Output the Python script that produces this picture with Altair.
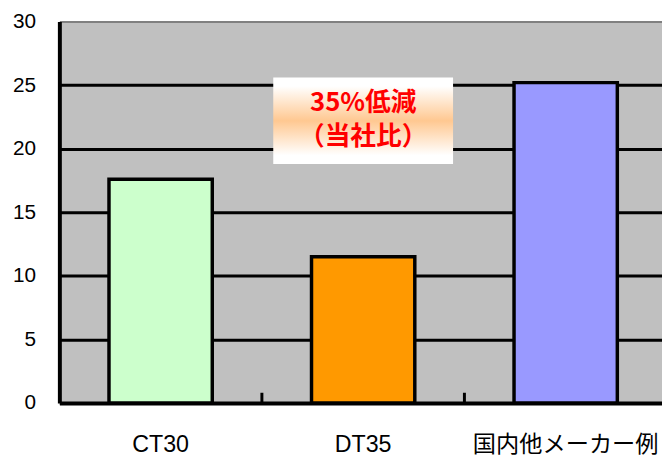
import altair as alt
import pandas as pd

categories = ["CT30", "DT35", "国内他メーカー例"]
values = [17.6, 11.5, 25.2]
bar_colors = ["#CCFFCC", "#FF9900", "#9999FF"]
y_ticks = [0, 5, 10, 15, 20, 25, 30]
note_lines = ["35%低減", "（当社比）"]
note_y = [23.6, 20.9]
note_box = [18.8, 25.6]
tick_len = 0.8

FONT = "'Liberation Sans', 'Noto Sans CJK JP', sans-serif"

bars_df = pd.DataFrame({"cat": categories, "v": values})
box_df = pd.DataFrame({"cat": [categories[1]], "y1": [note_box[0]], "y2": [note_box[1]]})
text_df = pd.DataFrame({"cat": [categories[1]] * 2, "y": note_y, "t": note_lines})
tick_df = pd.DataFrame({"cat": categories[1:], "y1": [0] * 2, "y2": [tick_len] * 2})

xscale = alt.Scale(domain=categories, paddingInner=0, paddingOuter=0, range=[0, 615])
yscale = alt.Scale(domain=[0, 30], nice=False)

x_axis = alt.Axis(
    domainColor="black", domainWidth=4, ticks=False, tickSize=0,
    labelFontSize=23.5, labelPadding=30, labelAngle=0, labelColor="black",
    labelFont=FONT, labelLimit=0, grid=False, title=None,
)
y_axis = alt.Axis(
    values=y_ticks, domainColor="black", domainWidth=4, ticks=False, tickSize=0,
    labelFontSize=21, labelPadding=24, labelColor="black", labelFont=FONT,
    grid=True,
    gridColor={"condition": {"test": "datum.value == 30", "value": "#808080"}, "value": "black"},
    gridWidth={"condition": {"test": "datum.value == 30", "value": 2}, "value": 3},
    gridOpacity=1, title=None,
)

bars = alt.Chart(bars_df).mark_bar(
    width={"band": 0.51}, stroke="black", strokeWidth=3.5
).encode(
    x=alt.X("cat:N", sort=categories, scale=xscale, axis=x_axis),
    y=alt.Y("v:Q", scale=yscale, axis=y_axis),
    color=alt.Color("cat:N", scale=alt.Scale(domain=categories, range=bar_colors), legend=None),
)

ticks = alt.Chart(tick_df).mark_rule(color="black", strokeWidth=3).encode(
    x=alt.X("cat:N", sort=categories, scale=xscale, bandPosition=0),
    y=alt.Y("y1:Q", scale=yscale),
    y2="y2:Q",
)

grad = alt.LinearGradient(
    gradient="linear",
    stops=[
        alt.GradientStop(color="#FFFFFF", offset=0),
        alt.GradientStop(color="#FFFFFF", offset=0.1),
        alt.GradientStop(color="#FFC891", offset=0.5),
        alt.GradientStop(color="#FFFFFF", offset=0.9),
        alt.GradientStop(color="#FFFFFF", offset=1),
    ],
    x1=0, x2=0, y1=0, y2=1,
)

box = alt.Chart(box_df).mark_bar(width=182, color=grad, strokeWidth=0).encode(
    x=alt.X("cat:N", sort=categories, scale=xscale),
    y=alt.Y("y1:Q", scale=yscale),
    y2="y2:Q",
)

note = alt.Chart(text_df).mark_text(
    color="#FF0000", fontSize=26, fontWeight="bold", font="'Noto Sans CJK JP'", baseline="middle", align="center"
).encode(
    x=alt.X("cat:N", sort=categories, scale=xscale),
    y=alt.Y("y:Q", scale=yscale),
    text="t:N",
)

chart = alt.layer(bars, ticks, box, note).properties(
    width=610, height=386,
    autosize=alt.AutoSizeParams(type="none"),
    padding={"left": 52, "top": 11, "right": 0, "bottom": 54},
    background="white",
).configure_view(fill="#C0C0C0", stroke="transparent")

chart.save("out.html", embed_options={"renderer": "svg", "actions": False})
